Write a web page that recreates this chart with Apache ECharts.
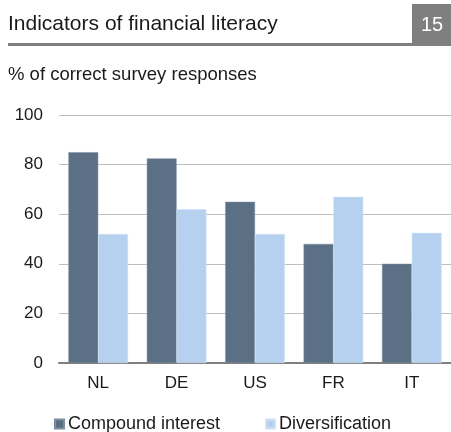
<!DOCTYPE html>
<html lang="en">
<head>
    <meta charset="UTF-8">
    <title>Indicators of financial literacy</title>
    <script src="https://cdn.jsdelivr.net/npm/echarts@6/dist/echarts.min.js"></script>
    <style>
        html, body { margin: 0; padding: 0; background: #fff; }
    </style>
</head>
<body>
    <div id="main" style="width: 451px;height:432px;"></div>

<script type="text/javascript">
    var countries = ['NL', 'DE', 'US', 'FR', 'IT'];
    var compoundInterest = [85, 82.5, 65, 48, 40];
    var diversification = [52, 62, 52, 67, 52.5];
    var yTicks = [0, 20, 40, 60, 80, 100];

    var font = '"Liberation Sans", Arial, sans-serif';
    var myChart = echarts.init(document.getElementById('main'));

    option = {
        backgroundColor: '#fff',
        animation: false,
        textStyle: { fontFamily: font },
        graphic: [
            { type: 'text', left: 8, top: 14, style: { text: 'Indicators of financial literacy', font: '21px ' + font, fill: '#1a1a1a' } },
            { type: 'rect', shape: { x: 8, y: 43, width: 404, height: 3 }, style: { fill: '#7f7f7f' } },
            { type: 'rect', shape: { x: 412, y: 4, width: 39, height: 42 }, style: { fill: '#7f7f7f' } },
            { type: 'text', x: 432, y: 25, style: { text: '15', font: '20px ' + font, fill: '#fff', align: 'center', verticalAlign: 'middle' } },
            { type: 'text', left: 8, top: 65, style: { text: '% of correct survey responses', font: '18.5px ' + font, fill: '#1a1a1a' } }
        ],
        legend: {
            top: 410,
            left: 49,
            itemWidth: 9,
            itemHeight: 9,
            itemGap: 45,
            icon: 'rect',
            textStyle: { fontSize: 18, color: '#1a1a1a', fontFamily: font, padding: [0, 0, 0, -1] },
            data: ['Compound interest', 'Diversification']
        },
        grid: { left: 59, top: 115, width: 394, height: 248, containLabel: false },
        xAxis: {
            type: 'category',
            data: countries,
            axisLine: { lineStyle: { color: '#7f7f7f', width: 2 } },
            axisTick: { show: false },
            axisLabel: { fontSize: 17, color: '#1a1a1a', margin: 12 }
        },
        yAxis: {
            type: 'value',
            min: yTicks[0],
            max: yTicks[yTicks.length - 1],
            interval: 20,
            axisLine: { show: false },
            axisTick: { show: false },
            axisLabel: { fontSize: 17, color: '#1a1a1a', margin: 16 },
            splitLine: { lineStyle: { color: '#bfbfbf', width: 1 } }
        },
        series: [{
            name: 'Compound interest',
            type: 'bar',
            data: compoundInterest,
            barGap: '0%',
            barCategoryGap: '24%',
            itemStyle: { color: '#5b7085', borderColor: '#7d8ea0', borderWidth: 0.5 }
        },
        {
            name: 'Diversification',
            type: 'bar',
            data: diversification,
            barGap: '0%',
            barCategoryGap: '24%',
            itemStyle: { color: '#b5d1ef', borderColor: '#d0e2f5', borderWidth: 0.5 }
        }]
    };
    myChart.setOption(option);
</script>
</body>
</html>
